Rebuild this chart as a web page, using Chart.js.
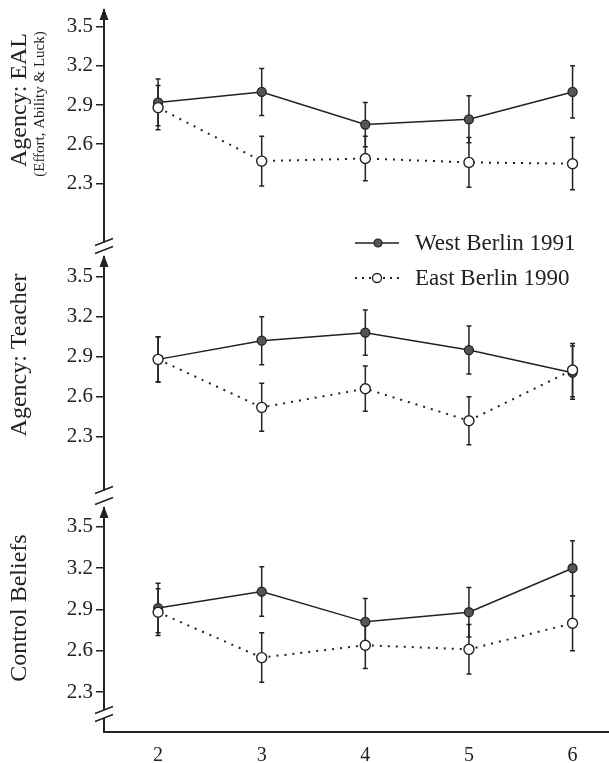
<!DOCTYPE html>
<html>
<head>
<meta charset="utf-8">
<script src="https://cdn.jsdelivr.net/npm/chart.js@4.4.0/dist/chart.umd.min.js"></script>
<style>
  body { margin: 0; background: #fff; overflow: hidden; }
  #wrap { position: relative; width: 609px; height: 763px; overflow: hidden; }
  #wrap canvas { position: absolute; left: 0; }
  .leg { position: absolute; left: 355px; height: 26px; display: flex; align-items: center;
         font: 23px "Liberation Serif", "Times New Roman", serif; color: #222; white-space: nowrap; }
  .leg svg { margin-right: 16px; }
</style>
</head>
<body>
<div id="wrap">
  <canvas id="c1" width="609" height="272" style="top:-10px"></canvas>
  <canvas id="c2" width="609" height="273" style="top:237px"></canvas>
  <canvas id="c3" width="609" height="275" style="top:488px"></canvas>
  <div class="leg" style="top:230px">
    <svg width="44" height="14"><line x1="0" y1="7" x2="44" y2="7" stroke="#222" stroke-width="1.5"/><circle cx="23" cy="7" r="4" fill="#555" stroke="#222" stroke-width="1.2"/></svg>
    West Berlin 1991
  </div>
  <div class="leg" style="top:265px">
    <svg width="44" height="14"><line x1="0" y1="7" x2="44" y2="7" stroke="#222" stroke-width="2" stroke-dasharray="2 5"/><circle cx="22" cy="7" r="4.5" fill="#fff" stroke="#222" stroke-width="1.3"/></svg>
    East Berlin 1990
  </div>
</div>
<script>
// grade levels and y tick values
const grades = [2, 3, 4, 5, 6];
const yTicks = [2.3, 2.6, 2.9, 3.2, 3.5];

// Agency: EAL
const ealWest = [2.92, 3.00, 2.75, 2.79, 3.00];
const ealWestErr = [0.18, 0.18, 0.17, 0.18, 0.20];
const ealEast = [2.88, 2.47, 2.49, 2.46, 2.45];
const ealEastErr = [0.17, 0.19, 0.17, 0.19, 0.20];

// Agency: Teacher
const teacherWest = [2.88, 3.02, 3.08, 2.95, 2.78];
const teacherWestErr = [0.17, 0.18, 0.17, 0.18, 0.20];
const teacherEast = [2.88, 2.52, 2.66, 2.42, 2.80];
const teacherEastErr = [0.17, 0.18, 0.17, 0.18, 0.20];

// Control Beliefs
const controlWest = [2.91, 3.03, 2.81, 2.88, 3.20];
const controlWestErr = [0.18, 0.18, 0.17, 0.18, 0.20];
const controlEast = [2.88, 2.55, 2.64, 2.61, 2.80];
const controlEastErr = [0.17, 0.18, 0.17, 0.18, 0.20];

const SERIF = '"Liberation Serif", "Times New Roman", serif';
const INK = '#222';

// error bars, axis arrow, axis breaks and the rotated axis titles
const decor = {
  id: 'decor',
  beforeDatasetsDraw(chart) {
    const ctx = chart.ctx, xs = chart.scales.x, ys = chart.scales.y;
    ctx.save();
    ctx.strokeStyle = INK;
    ctx.lineWidth = 1.5;
    chart.data.datasets.forEach(ds => {
      ds.data.forEach((p, i) => {
        const e = ds.errors[i];
        const x = xs.getPixelForValue(p.x);
        const y1 = ys.getPixelForValue(p.y + e);
        const y2 = ys.getPixelForValue(p.y - e);
        ctx.beginPath();
        ctx.moveTo(x, y1); ctx.lineTo(x, y2);
        ctx.moveTo(x - 2.5, y1); ctx.lineTo(x + 2.5, y1);
        ctx.moveTo(x - 2.5, y2); ctx.lineTo(x + 2.5, y2);
        ctx.stroke();
      });
    });
    ctx.restore();
  },
  afterDraw(chart, args, o) {
    const ctx = chart.ctx, a = chart.chartArea, x0 = a.left;
    ctx.save();
    ctx.fillStyle = INK;
    ctx.strokeStyle = INK;
    ctx.lineWidth = 1.5;
    // arrow head
    ctx.beginPath();
    ctx.moveTo(x0, a.top - 2);
    ctx.lineTo(x0 - 4.5, a.top + 10);
    ctx.lineTo(x0 + 4.5, a.top + 10);
    ctx.closePath();
    ctx.fill();
    const slant = y => {
      ctx.beginPath();
      ctx.moveTo(x0 - 9, y + 3.5);
      ctx.lineTo(x0 + 9, y - 3.5);
      ctx.stroke();
    };
    if (o.topBreak) slant(a.top - 7);
    if (o.bottomBreak) slant(a.bottom);
    if (o.gap) {
      ctx.clearRect(x0 - 3, o.gap[0], 6, o.gap[1] - o.gap[0]);
      slant(o.gap[0]);
      slant(o.gap[1]);
      // x axis runs on to the page edge
      ctx.lineWidth = 2;
      ctx.beginPath();
      ctx.moveTo(a.right - 1, a.bottom);
      ctx.lineTo(chart.width, a.bottom);
      ctx.stroke();
    }
    // titles
    ctx.textAlign = 'center';
    ctx.textBaseline = 'middle';
    o.titles.forEach(t => {
      ctx.save();
      ctx.translate(t.x, t.y);
      ctx.rotate(-Math.PI / 2);
      ctx.font = t.size + 'px ' + SERIF;
      ctx.fillText(t.text, 0, 0);
      ctx.restore();
    });
    ctx.restore();
  }
};

function makePanel(id, west, westErr, east, eastErr, yMin, yMax, showX, deco) {
  const pts = vals => grades.map((g, i) => ({ x: g, y: vals[i] }));
  new Chart(document.getElementById(id), {
    type: 'line',
    data: {
      datasets: [
        {
          label: 'West Berlin 1991',
          data: pts(west),
          errors: westErr,
          order: 2,
          borderColor: INK,
          borderWidth: 1.5,
          pointRadius: 4.5,
          pointBackgroundColor: '#555',
          pointBorderColor: INK,
          pointBorderWidth: 1.3
        },
        {
          label: 'East Berlin 1990',
          data: pts(east),
          errors: eastErr,
          order: 1,
          borderColor: INK,
          borderWidth: 2,
          borderDash: [2, 6],
          pointRadius: 5,
          pointBackgroundColor: '#fff',
          pointBorderColor: INK,
          pointBorderWidth: 1.4
        }
      ]
    },
    options: {
      responsive: false,
      animation: false,
      // padding larger than the y axis' own label padding, so the plot area is exact
      layout: { padding: { top: 20, bottom: showX ? 0 : 20, left: 0, right: 0 } },
      plugins: {
        legend: { display: false },
        tooltip: { enabled: false },
        decor: deco
      },
      scales: {
        x: {
          type: 'linear',
          min: 1.478,
          max: 6.29,
          display: showX,
          afterBuildTicks: s => { s.ticks = grades.map(v => ({ value: v })); },
          afterFit: s => { s.height = showX ? 31 : 0; },
          grid: { display: false, drawTicks: false },
          border: { display: true, color: INK, width: 2 },
          ticks: { color: INK, padding: 12, font: { family: SERIF, size: 20 } }
        },
        y: {
          min: yMin,
          max: yMax,
          afterBuildTicks: s => { s.ticks = yTicks.map(v => ({ value: v })); },
          afterFit: s => { s.width = 104; },
          grid: { drawOnChartArea: false, drawTicks: true, tickLength: 8, color: INK, lineWidth: 1.5 },
          border: { display: true, color: INK, width: 2 },
          ticks: { color: INK, padding: 3, font: { family: SERIF, size: 21 }, callback: v => v.toFixed(1) }
        }
      }
    },
    plugins: [decor]
  });
}

makePanel('c1', ealWest, ealWestErr, ealEast, ealEastErr, 1.85, 3.628, false, {
  bottomBreak: true,
  titles: [
    { text: 'Agency: EAL', x: 20, y: 110, size: 24 },
    { text: '(Effort, Ability & Luck)', x: 40, y: 114, size: 15 }
  ]
});
makePanel('c2', teacherWest, teacherWestErr, teacherEast, teacherEastErr, 1.90, 3.648, false, {
  topBreak: true,
  bottomBreak: true,
  titles: [{ text: 'Agency: Teacher', x: 20, y: 118, size: 24 }]
});
makePanel('c3', controlWest, controlWestErr, controlEast, controlEastErr, 2.009, 3.638, true, {
  topBreak: true,
  gap: [222, 230],
  titles: [{ text: 'Control Beliefs', x: 20, y: 120, size: 24 }]
});
</script>
</body>
</html>
